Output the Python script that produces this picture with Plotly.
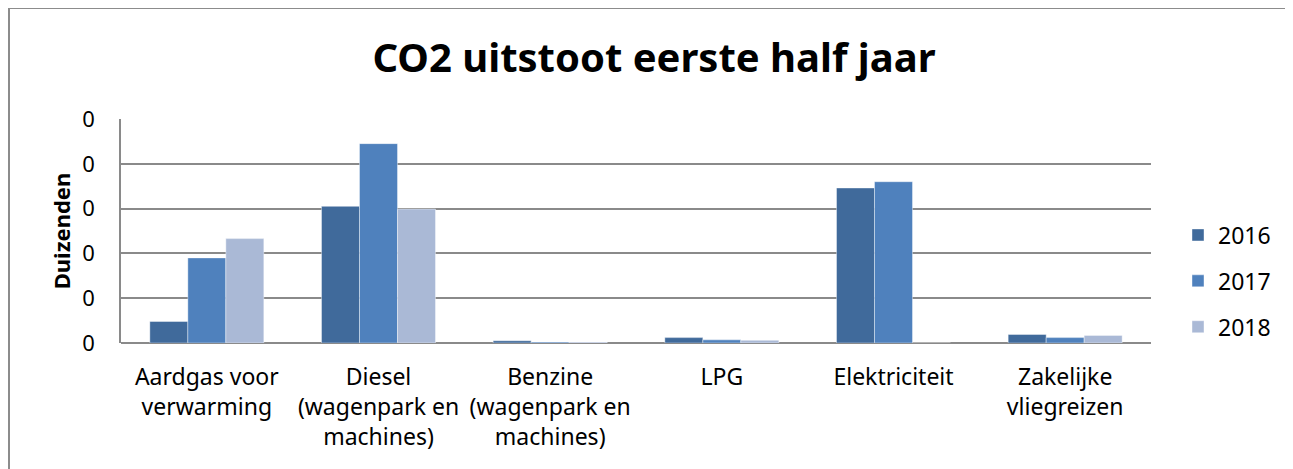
import plotly.graph_objects as go

categories = ["Aardgas voor<br>verwarming", "Diesel<br>(wagenpark en<br>machines)",
              "Benzine<br>(wagenpark en<br>machines)", "LPG", "Elektriciteit",
              "Zakelijke<br>vliegreizen"]
series_names = ["2016", "2017", "2018"]
values_2016 = [48, 305, 5, 12, 346, 19]
values_2017 = [190, 445, 2, 7, 360, 12]
values_2018 = [233, 299, 2, 6, 0, 17]
tick_values = [0, 100, 200, 300, 400, 500]
tick_labels = ["0", "0", "0", "0", "0", "0"]
colors = ["#406A9B", "#4F81BD", "#AAB9D6"]

FONT = "Noto Sans"
fig = go.Figure()
for name, vals, col in zip(series_names, [values_2016, values_2017, values_2018], colors):
    fig.add_trace(go.Bar(x=categories, y=vals, name=name, legendgroup=name,
                         marker=dict(color=col, line=dict(color="rgba(255,255,255,0.5)", width=0.8))))

# the page body adds an 8px offset, so the figure is sized to fit the window
W, H = 1285, 461
L, R, T, B = 113, 142, 111, 126
pw, ph = W - L - R, H - T - B

def px(x):
    return (x - L) / pw

def py(y):
    return (H - B - y) / ph

fig.update_layout(
    width=W, height=H,
    margin=dict(l=L, r=R, t=T, b=B, pad=0),
    paper_bgcolor="white", plot_bgcolor="white",
    barmode="group", bargap=0.336, bargroupgap=0,
    font=dict(family=FONT, color="black"),
    title=dict(text="<b>CO2 uitstoot eerste half jaar</b>", xref="paper", x=px(646), xanchor="center",
               y=1 - 50 / H, yanchor="middle", font=dict(size=40, family=FONT)),
    xaxis=dict(showgrid=False, showline=False, ticks="", tickfont=dict(size=23),
               tickangle=0, ticklabelstandoff=18),
    yaxis=dict(range=[0, 500], tickvals=tick_values, ticktext=tick_labels,
               showgrid=True, gridcolor="#8A8A8A", gridwidth=1.5,
               showline=True, linecolor="#8A8A8A", linewidth=1.5,
               zeroline=True, zerolinecolor="#8A8A8A", zerolinewidth=1.5,
               ticks="", tickfont=dict(size=22), ticklabelstandoff=20,
               title=dict(text="<b>Duizenden</b>", font=dict(size=22), standoff=6)),
    legend=dict(x=px(1170), xanchor="left", y=py(273), yanchor="middle",
                font=dict(size=23), traceorder="grouped", tracegroupgap=13,
                bgcolor="rgba(0,0,0,0)"),
    shapes=[dict(type="rect", xref="paper", yref="paper",
                 x0=px(1), x1=px(1300), y0=py(480), y1=py(0),
                 line=dict(color="#8C8C8C", width=2), fillcolor="rgba(0,0,0,0)",
                 layer="below")],
)

fig.write_html("out.html")
